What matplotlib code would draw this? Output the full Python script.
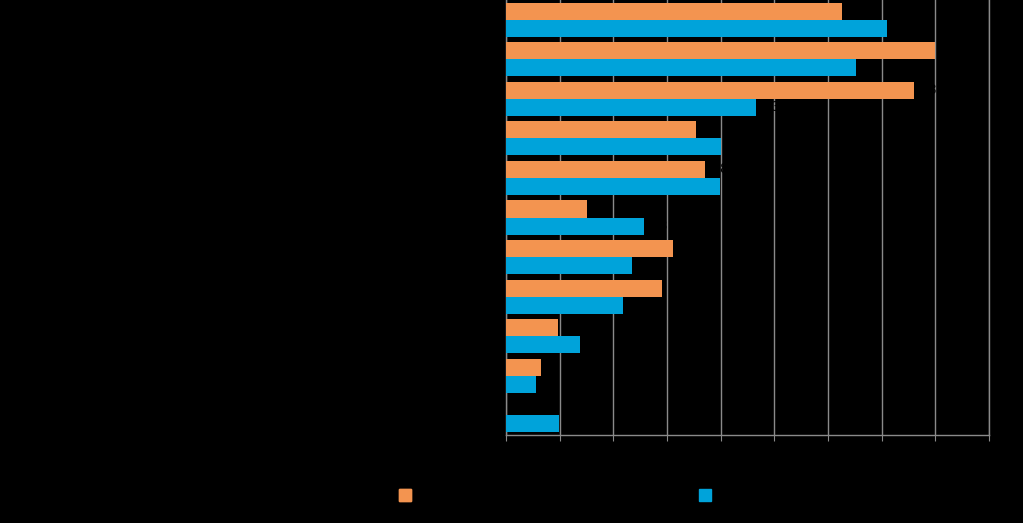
import matplotlib
matplotlib.use("Agg")
import matplotlib.pyplot as plt
import numpy as np
from matplotlib.patches import Patch

categories = ["Category 1", "Category 2", "Category 3", "Category 4", "Category 5",
              "Category 6", "Category 7", "Category 8", "Category 9", "Category 10",
              "Category 11"]
series_names = ["Series 1", "Series 2"]
orange_vals = [31.3, 40.0, 38.0, 17.7, 18.5, 7.5, 15.6, 14.5, 4.8, 3.3, 0.0]
blue_vals = [35.5, 32.6, 23.3, 20.0, 19.9, 12.9, 11.7, 10.9, 6.9, 2.8, 4.9]
x_ticks = [0, 5, 10, 15, 20, 25, 30, 35, 40, 45]

orange = "#F39450"
blue = "#00A3DA"
grid_c = "#8a8a8a"

fig = plt.figure(figsize=(10.23, 5.23), dpi=100, facecolor="black")
ax = fig.add_axes([506/1023, 1-435/523, (989-506)/1023, 435/523 - 0.0])
ax.set_facecolor("black")

y = np.arange(len(categories))
h = 0.43
ax.barh(y - h/2, orange_vals, height=h, color=orange, zorder=3)
ax.barh(y + h/2, blue_vals, height=h, color=blue, zorder=3)

for yi, v in zip(y, orange_vals):
    if v > 0:
        ax.text(v + 0.6, yi - h/2, f"{v:.0f}", color="black", va="center",
                ha="left", fontsize=10, zorder=2)
for yi, v in zip(y, blue_vals):
    ax.text(v + 0.6, yi + h/2, f"{v:.0f}", color="black", va="center",
            ha="left", fontsize=10, zorder=2)

ax.set_xlim(0, 45)
ax.set_ylim(len(categories) - 0.5, -0.5)
ax.set_xticks(x_ticks)
ax.set_xticklabels([str(t) for t in x_ticks], color="black", fontsize=11)
ax.set_yticks(y)
ax.set_yticklabels(categories, color="black", fontsize=11)
ax.xaxis.grid(True, color=grid_c, lw=1, zorder=0)
ax.tick_params(axis="x", colors=grid_c, labelcolor="black", length=4, direction="out")
ax.tick_params(axis="y", colors=grid_c, labelcolor="black", length=0)
ax.spines["top"].set_visible(False)
for s in ["left", "bottom", "right"]:
    ax.spines[s].set_color(grid_c)
    ax.spines[s].set_linewidth(1)

leg1 = fig.legend(handles=[Patch(color=orange, label=series_names[0])],
                  loc="center left", bbox_to_anchor=(399/1023, 1-496/523),
                  frameon=False, handlelength=0.8, handleheight=0.8,
                  labelcolor="black", fontsize=11, borderaxespad=0, borderpad=0)
fig.add_artist(leg1)
leg2 = fig.legend(handles=[Patch(color=blue, label=series_names[1])],
                  loc="center left", bbox_to_anchor=(699/1023, 1-496/523),
                  frameon=False, handlelength=0.8, handleheight=0.8,
                  labelcolor="black", fontsize=11, borderaxespad=0, borderpad=0)

fig.savefig("out.png", dpi=100, facecolor="black")
